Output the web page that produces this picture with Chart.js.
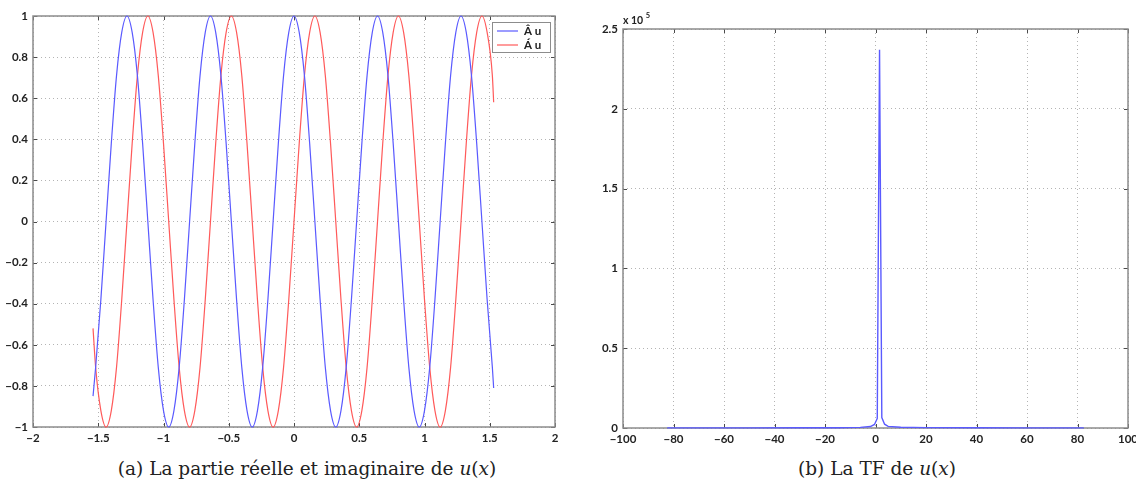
<!DOCTYPE html>
<html>
<head>
<meta charset="utf-8">
<script src="https://cdn.jsdelivr.net/npm/chart.js@4.4.1/dist/chart.umd.min.js"></script>
<style>
  html, body { margin: 0; padding: 0; background: #fff; }
  body { width: 1136px; height: 484px; position: relative; overflow: hidden; }
  canvas { position: absolute; top: 0; }
  #chart-a { left: 0; }
  #chart-b { left: 568px; }
  .caption { position: absolute; top: 457px; line-height: 24px; font-family: "DejaVu Serif", serif; font-size: 18.5px; color: #222; white-space: nowrap; transform: translateX(-50%); }
</style>
</head>
<body>
<canvas id="chart-a" width="568" height="450"></canvas>
<canvas id="chart-b" width="600" height="450"></canvas>
<div class="caption" style="left:307px">(a) La partie réelle et imaginaire de <i>u</i>(<i>x</i>)</div>
<div class="caption" style="left:877px">(b) La TF de <i>u</i>(<i>x</i>)</div>
<script>
// (a) real / imaginary part
const xA = [-1.54,
  -1.52, -1.48, -1.44, -1.40, -1.36, -1.32, -1.28, -1.24, -1.20, -1.16, -1.12, -1.08, -1.04, -1.00,
  -0.96, -0.92, -0.88, -0.84, -0.80, -0.76, -0.72, -0.68, -0.64, -0.60, -0.56, -0.52, -0.48, -0.44,
  -0.40, -0.36, -0.32, -0.28, -0.24, -0.20, -0.16, -0.12, -0.08, -0.04, 0,
  0.04, 0.08, 0.12, 0.16, 0.20, 0.24, 0.28, 0.32, 0.36, 0.40, 0.44, 0.48, 0.52, 0.56, 0.60,
  0.64, 0.68, 0.72, 0.76, 0.80, 0.84, 0.88, 0.92, 0.96, 1.00, 1.04, 1.08, 1.12, 1.16, 1.20,
  1.24, 1.28, 1.32, 1.36, 1.40, 1.44, 1.48, 1.52, 1.53];
const reU = [-0.85,
  -0.71, -0.38, 0, 0.38, 0.71, 0.92,
  1, 0.92, 0.71, 0.38, 0, -0.38, -0.71, -0.92, -1, -0.92, -0.71, -0.38, 0, 0.38, 0.71, 0.92,
  1, 0.92, 0.71, 0.38, 0, -0.38, -0.71, -0.92, -1, -0.92, -0.71, -0.38, 0, 0.38, 0.71, 0.92,
  1, 0.92, 0.71, 0.38, 0, -0.38, -0.71, -0.92, -1, -0.92, -0.71, -0.38, 0, 0.38, 0.71, 0.92,
  1, 0.92, 0.71, 0.38, 0, -0.38, -0.71, -0.92, -1, -0.92, -0.71, -0.38, 0, 0.38, 0.71, 0.92,
  1, 0.92, 0.71, 0.38, 0, -0.38, -0.71,
  -0.81];
const imU = [-0.52,
  -0.71, -0.92, -1, -0.92, -0.71, -0.38,
  0, 0.38, 0.71, 0.92, 1, 0.92, 0.71, 0.38, 0, -0.38, -0.71, -0.92, -1, -0.92, -0.71, -0.38,
  0, 0.38, 0.71, 0.92, 1, 0.92, 0.71, 0.38, 0, -0.38, -0.71, -0.92, -1, -0.92, -0.71, -0.38,
  0, 0.38, 0.71, 0.92, 1, 0.92, 0.71, 0.38, 0, -0.38, -0.71, -0.92, -1, -0.92, -0.71, -0.38,
  0, 0.38, 0.71, 0.92, 1, 0.92, 0.71, 0.38, 0, -0.38, -0.71, -0.92, -1, -0.92, -0.71, -0.38,
  0, 0.38, 0.71, 0.92, 1, 0.92, 0.71,
  0.58];
const labelsA = ['Â u', 'Á u'];
const xTicksA = [-2, -1.5, -1, -0.5, 0, 0.5, 1, 1.5, 2];
const yTicksA = [-1, -0.8, -0.6, -0.4, -0.2, 0, 0.2, 0.4, 0.6, 0.8, 1];

// (b) Fourier transform
const freqB = [-82.5, -70, -50, -30, -15, -6, -2, -0.4, 0.7, 1.6, 2.5, 3.6, 5, 10, 20, 40, 60, 82.5];
const ampB = [60, 80, 90, 120, 200, 400, 900, 2200, 6000, 237000, 6500, 2400, 1000, 450, 250, 120, 80, 60];
const xTicksB = [-100, -80, -60, -40, -20, 0, 20, 40, 60, 80, 100];
const yTicksB = [0, 0.5, 1, 1.5, 2, 2.5];   // x 10^5
const yMultB = 1e5;

const BLUE = '#5a5aff';
const RED = '#ff5a5a';
const tickFont = { family: 'Lato, "DejaVu Sans", sans-serif', size: 11.5, weight: 'bold' };
const fmt = v => (v < 0 ? '\u2212' : '') + Math.abs(v);

const framePlugin = {
  id: 'frame',
  beforeDatasetsDraw(chart) {
    const { ctx, chartArea: a, scales } = chart;
    ctx.save();
    ctx.strokeStyle = '#4a4a4a';
    ctx.lineWidth = 1;
    ctx.beginPath();
    scales.x.ticks.forEach(t => {
      const px = Math.round(scales.x.getPixelForValue(t.value)) + 0.5;
      ctx.moveTo(px, a.top); ctx.lineTo(px, a.top + 4);
      ctx.moveTo(px, a.bottom); ctx.lineTo(px, a.bottom - 4);
    });
    scales.y.ticks.forEach(t => {
      const py = Math.round(scales.y.getPixelForValue(t.value)) + 0.5;
      ctx.moveTo(a.left, py); ctx.lineTo(a.left + 4, py);
      ctx.moveTo(a.right, py); ctx.lineTo(a.right - 4, py);
    });
    ctx.stroke();
    ctx.strokeStyle = '#8c8c8c';
    ctx.lineWidth = 1.5;
    ctx.strokeRect(a.left, a.top, a.right - a.left, a.bottom - a.top);
    ctx.restore();
  }
};

function axes(xMin, xMax, xTicks, yMin, yMax, yTicks, yFmt, yWidth, xHeight) {
  return {
    x: {
      type: 'linear', min: xMin, max: xMax,
      afterBuildTicks: s => { s.ticks = xTicks.map(v => ({ value: v })); },
      afterFit: s => { s.height = xHeight; },
      ticks: { callback: fmt, font: tickFont, color: '#222', padding: 4, maxRotation: 0, autoSkip: false },
      grid: { color: '#b4b4b4', lineWidth: 1, drawTicks: false },
      border: { display: false, dash: [1, 3] }
    },
    y: {
      type: 'linear', min: yMin, max: yMax,
      afterBuildTicks: s => { s.ticks = yTicks.map(v => ({ value: v })); },
      afterFit: s => { s.width = yWidth; },
      ticks: { callback: yFmt, font: tickFont, color: '#222', padding: 5, autoSkip: false },
      grid: { color: '#b4b4b4', lineWidth: 1, drawTicks: false },
      border: { display: false, dash: [1, 3] }
    }
  };
}

const legendPlugin = {
  id: 'boxLegend',
  afterDatasetsDraw(chart) {
    const { ctx, chartArea: a } = chart;
    const x0 = a.right - 63, y0 = a.top + 6, w = 58, h = 30;
    ctx.save();
    ctx.fillStyle = '#fff';
    ctx.fillRect(x0, y0, w, h);
    ctx.strokeStyle = '#8c8c8c';
    ctx.lineWidth = 1;
    ctx.strokeRect(x0 + 0.5, y0 + 0.5, w, h);
    ctx.font = 'bold 11.5px Lato, "DejaVu Sans", sans-serif';
    ctx.textBaseline = 'middle';
    chart.data.datasets.forEach((ds, i) => {
      const yy = y0 + 9 + i * 14;
      ctx.strokeStyle = ds.borderColor;
      ctx.lineWidth = 1.2;
      ctx.beginPath();
      ctx.moveTo(x0 + 5, yy); ctx.lineTo(x0 + 26, yy);
      ctx.stroke();
      ctx.fillStyle = '#222';
      ctx.fillText(ds.label, x0 + 32, yy);
    });
    ctx.restore();
  }
};

const multPlugin = {
  id: 'mult',
  afterDraw(chart) {
    const { ctx, chartArea: a } = chart;
    ctx.save();
    ctx.fillStyle = '#222';
    ctx.textBaseline = 'alphabetic';
    ctx.font = 'bold 10.5px Lato, "DejaVu Sans", sans-serif';
    ctx.fillText('x 10', a.left, a.top - 5);
    const w = ctx.measureText('x 10 ').width;
    ctx.font = 'bold 7.5px Lato, "DejaVu Sans", sans-serif';
    ctx.fillText(String(Math.log10(yMultB)), a.left + w, a.top - 11);
    ctx.restore();
  }
};

new Chart(document.getElementById('chart-a'), {
  type: 'line',
  data: {
    datasets: [
      { label: labelsA[0], data: xA.map((x, i) => ({ x, y: reU[i] })), borderColor: BLUE },
      { label: labelsA[1], data: xA.map((x, i) => ({ x, y: imU[i] })), borderColor: RED }
    ].map(d => Object.assign(d, { borderWidth: 1.2, pointRadius: 0, cubicInterpolationMode: 'monotone', fill: false, clip: false }))
  },
  options: {
    responsive: false, animation: false,
    layout: { padding: { left: 0, top: 16, right: 13, bottom: 0 } },
    plugins: { legend: { display: false }, tooltip: { enabled: false } },
    scales: axes(-2, 2, xTicksA, -1, 1, yTicksA, fmt, 33, 23)
  },
  plugins: [framePlugin, legendPlugin]
});

new Chart(document.getElementById('chart-b'), {
  type: 'line',
  data: {
    datasets: [
      { label: 'TF', data: freqB.map((x, i) => ({ x, y: ampB[i] })), borderColor: BLUE,
        borderWidth: 1.4, pointRadius: 0, tension: 0, fill: false, clip: false }
    ]
  },
  options: {
    responsive: false, animation: false,
    layout: { padding: { left: 0, top: 29, right: 40, bottom: 0 } },
    plugins: { legend: { display: false }, tooltip: { enabled: false } },
    scales: axes(-100, 100, xTicksB, 0, yTicksB[yTicksB.length - 1] * yMultB,
      yTicksB.map(v => v * yMultB), v => fmt(v / yMultB), 55, 22)
  },
  plugins: [framePlugin, multPlugin]
});
</script>
</body>
</html>
